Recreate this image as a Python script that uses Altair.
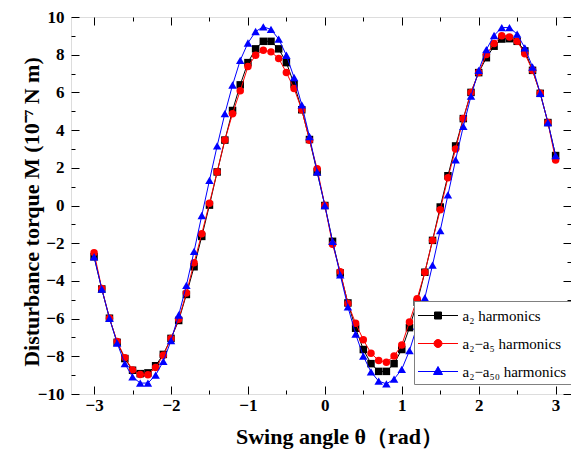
import altair as alt
import pandas as pd

theta = [-3.0, -2.9, -2.8, -2.7, -2.6, -2.5, -2.4, -2.3, -2.2, -2.1,
         -2.0, -1.9, -1.8, -1.7, -1.6, -1.5, -1.4, -1.3, -1.2, -1.1,
         -1.0, -0.9, -0.8, -0.7, -0.6, -0.5, -0.4, -0.3, -0.2, -0.1,
         0.0,
         0.1, 0.2, 0.3, 0.4, 0.5, 0.6, 0.7, 0.8, 0.9, 1.0,
         1.1, 1.2, 1.3, 1.4, 1.5, 1.6, 1.7, 1.8, 1.9, 2.0,
         2.1, 2.2, 2.3, 2.4, 2.5, 2.6, 2.7, 2.8, 2.9, 3.0]

m_a2 = [-2.72, -4.43, -5.98, -7.26, -8.12, -8.74, -8.92, -8.88, -8.50, -7.90,
        -7.05, -6.10, -4.72, -3.25, -1.64, 0.02, 1.78, 3.47, 5.04, 6.40,
        7.58, 8.31, 8.71, 8.71, 8.31, 7.58, 6.44, 5.08, 3.50, 1.78,
        0.00,
        -1.90, -3.58, -5.17, -6.51, -7.64, -8.39, -8.80, -8.80, -8.39, -7.64,
        -6.48, -5.13, -3.54, -1.85, -0.08, 1.58, 3.16, 4.61, 6.00, 7.05,
        7.84, 8.45, 8.83, 8.85, 8.71, 8.20, 7.17, 5.95, 4.40, 2.65]

m_a5 = [-2.50, -4.40, -5.98, -7.22, -8.07, -8.72, -8.97, -8.98, -8.60, -7.95,
        -7.05, -6.04, -4.64, -3.04, -1.50, 0.12, 1.78, 3.47, 4.87, 6.09,
        7.37, 7.97, 8.24, 8.15, 7.80, 7.05, 6.21, 5.08, 3.46, 1.95,
        0.00,
        -2.06, -3.51, -5.20, -6.25, -7.12, -7.84, -8.22, -8.31, -7.99, -7.40,
        -6.18, -4.94, -3.54, -1.85, -0.23, 1.47, 3.00, 4.61, 6.00, 7.05,
        8.01, 8.59, 9.00, 8.94, 8.71, 8.05, 7.17, 5.95, 4.40, 2.42]

m_a50 = [-2.72, -4.43, -5.98, -7.30, -8.39, -9.09, -9.42, -9.42, -9.00, -8.27,
         -7.17, -5.81, -4.24, -2.43, -0.53, 1.33, 3.16, 4.87, 6.39, 7.70,
         8.62, 9.23, 9.48, 9.34, 8.83, 7.97, 6.79, 5.34, 3.66, 1.78,
         0.00,
         -1.90, -3.68, -5.38, -6.82, -7.99, -8.83, -9.32, -9.46, -9.21, -8.69,
         -7.70, -6.40, -4.90, -3.16, -1.33, 0.56, 2.42, 4.20, 5.80, 7.17,
         8.27, 9.02, 9.44, 9.44, 9.09, 8.36, 7.35, 5.95, 4.40, 2.65]

series_names = ["a\u2082 harmonics", "a\u2082\u2212a\u2085 harmonics", "a\u2082\u2212a\u2085\u2080 harmonics"]
series_colors = ["#000000", "#ff0000", "#0000ff"]
series_shapes = ["square", "circle", "triangle-up"]

x_major = [-3, -2, -1, 0, 1, 2, 3]
x_minor = [-2.5, -1.5, -0.5, 0.5, 1.5, 2.5]
y_major = [-10, -8, -6, -4, -2, 0, 2, 4, 6, 8, 10]
y_minor = [-9, -7, -5, -3, -1, 1, 3, 5, 7, 9]

rows = []
for name, vals in zip(series_names, [m_a2, m_a5, m_a50]):
    for t, m in zip(theta, vals):
        rows.append({"theta": t, "M": m, "series": name})
df = pd.DataFrame(rows)

FONT = "Liberation Serif"
W, H = 500, 377
xs = alt.Scale(domain=[-3.3, 3.2], nice=False, zero=False)
ys = alt.Scale(domain=[-10, 10], nice=False, zero=False)


def tick_axis(orient, offset, values, size):
    return alt.Axis(orient=orient, offset=offset, values=values, tickSize=size,
                    labels=False, domain=False, grid=False, title=None,
                    tickColor="black", tickWidth=1)


x_lab = alt.Axis(orient="bottom", values=x_major, ticks=False, domain=False, grid=False,
                 labelFont=FONT, labelFontSize=17, labelFontWeight="bold", labelColor="black",
                 labelPadding=3, title="Swing angle \u03b8\uff08rad\uff09", titleFont=FONT,
                 titleFontSize=22, titleFontWeight="bold", titleColor="black", titlePadding=13,
                 titleX=268)
y_lab = alt.Axis(orient="left", values=y_major, ticks=False, domain=False, grid=False,
                 labelFont=FONT, labelFontSize=17, labelFontWeight="bold", labelColor="black",
                 labelPadding=7, title="Disturbance torque M (10\u207b\u2077 N m)", titleFont=FONT,
                 titleFontSize=22, titleFontWeight="bold", titleColor="black",
                 titleX=-33, titleY=H / 2 + 6, titleAngle=270, titleAlign="center",
                 titleBaseline="alphabetic")

axes = [
    (x_lab, y_lab),
    (tick_axis("top", -H, x_major, 8), tick_axis("right", -W, y_major, 8)),
    (tick_axis("top", -H, x_minor, 4), tick_axis("right", -W, y_minor, 4)),
    (tick_axis("bottom", -H, x_major, 8), tick_axis("left", -W, y_major, 8)),
    (tick_axis("bottom", -H, x_minor, 4), tick_axis("left", -W, y_minor, 4)),
    (None, None),
]

base = alt.Chart(df)
layers = []
k = 0
for name, col, shp in zip(series_names, series_colors, series_shapes):
    ax_l = axes[k]
    ax_p = axes[k + 1]
    k += 2
    line = base.transform_filter(alt.datum.series == name).mark_line(
        color=col, strokeWidth=1).encode(
        x=alt.X("theta:Q", scale=xs, axis=ax_l[0]),
        y=alt.Y("M:Q", scale=ys, axis=ax_l[1]),
    )
    pts = base.transform_filter(alt.datum.series == name).mark_point(
        shape=shp, filled=True, color=col, opacity=1,
        size=56 if shp != "triangle-up" else 72).encode(
        x=alt.X("theta:Q", scale=xs, axis=ax_p[0]),
        y=alt.Y("M:Q", scale=ys, axis=ax_p[1]),
    )
    layers += [line, pts]

legend_paths = [
    "M-2,0H2M-0.35,-0.35H0.35V0.35H-0.35Z",
    "M-2,0H2M0.4,0A0.4,0.4 0 1,1 -0.4,0A0.4,0.4 0 1,1 0.4,0Z",
    "M-2,0H2M0,-0.5L0.45,0.3H-0.45Z",
]
leg = alt.Legend(orient="none", legendX=343, legendY=284, padding=4, title=None,
                 strokeColor="#808080", fillColor="white", symbolSize=400,
                 symbolOffset=9.5, labelOffset=14, rowPadding=9, symbolStrokeWidth=1,
                 symbolOpacity=1, labelFont=FONT, labelFontSize=15, labelColor="black",
                 labelLimit=0)
legend_layer = base.mark_point(filled=True, opacity=0).encode(
    x=alt.X("theta:Q", scale=xs, axis=None),
    y=alt.Y("M:Q", scale=ys, axis=None),
    shape=alt.Shape("series:N", scale=alt.Scale(domain=series_names, range=legend_paths), legend=leg),
    fill=alt.Fill("series:N", scale=alt.Scale(domain=series_names, range=series_colors), legend=leg),
    stroke=alt.Stroke("series:N", scale=alt.Scale(domain=series_names, range=series_colors), legend=leg),
)
layers.append(legend_layer)

chart = alt.layer(*layers).resolve_axis(x="independent", y="independent").properties(
    width=W, height=H, autosize="none",
    padding={"left": 63, "top": 9, "right": 0, "bottom": 56},
).configure_view(stroke="black", strokeWidth=1).configure(background="white")

chart.save("out.html", embed_options={"renderer": "svg", "actions": False})
